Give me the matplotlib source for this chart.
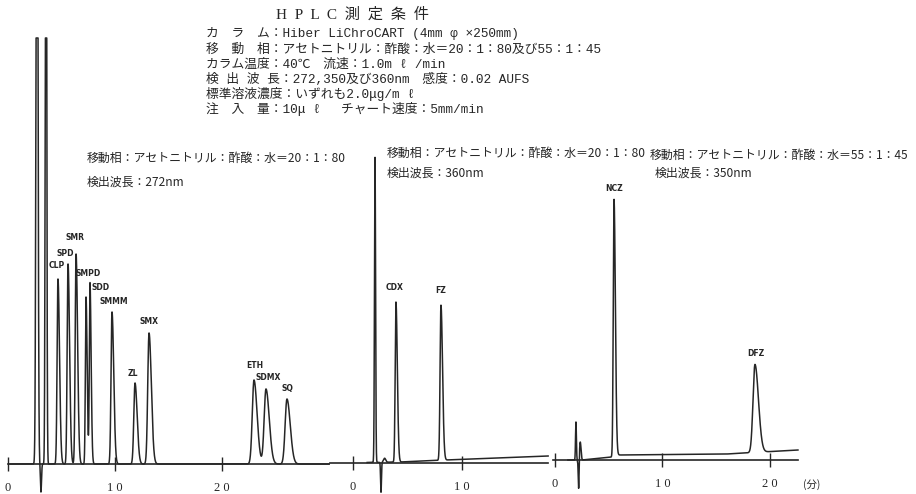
import numpy as np
import matplotlib
matplotlib.use('Agg')
import matplotlib.pyplot as plt

plt.rcParams['font.family'] = ['Noto Sans CJK JP', 'DejaVu Sans']

W, H = 916, 494

# Peak tables: retention time (min), height (chart units), width sigma (min)
p1_names = ['CLP', 'SPD', 'SMR', 'SMPD', 'SDD', 'SMMM', 'ZL', 'SMX', 'ETH', 'SDMX', 'SQ']
p1_rt = [4.67, 5.61, 6.36, 7.29, 7.66, 9.72, 11.87, 13.18, 22.99, 24.11, 26.07]
p1_height = [185, 200, 210, 167, 181, 152, 81, 131, 84, 75, 65]
p1_sigma = [0.08, 0.08, 0.08, 0.06, 0.06, 0.09, 0.11, 0.12, 0.16, 0.17, 0.17]
p1_inj_rt = [2.71, 3.08, 3.55]
p1_inj_height = [900, -28, 900]
p1_inj_sigma = [0.08, 0.05, 0.06]

p2_names = ['CDX', 'FZ']
p2_rt = [3.94, 8.07]
p2_height = [160, 155]
p2_sigma = [0.07, 0.08]
p2_inj_rt = [2.02, 2.57, 2.9]
p2_inj_height = [305, -30, 4]
p2_inj_sigma = [0.05, 0.04, 0.1]
p2_drift_t = [-2.0, 4.3, 8.5, 17.9]
p2_drift = [0, 1, 3, 7]

p3_names = ['NCZ', 'DFZ']
p3_rt = [5.49, 18.6]
p3_height = [257, 88]
p3_sigma = [0.07, 0.18]
p3_inj_rt = [1.95, 2.2, 2.35]
p3_inj_height = [38, -30, 18]
p3_inj_sigma = [0.04, 0.04, 0.07]
p3_drift_t = [-0.2, 2.5, 5.3, 5.9, 16.0, 22.6]
p3_drift = [0, 0, 3, 5, 6, 10]

FULL_SCALE = 426  # recorder pen limit

# label offsets (pixels) from each peak top
p1_lab_off = [(-1, 14), (-3, 11), (-1, 17), (2, 24), (11, -4), (2, 10), (-2, 10), (0, 12), (1, 14), (2, 12), (0, 11)]
p2_lab_off = [(-1, 15), (0, 15)]
p3_lab_off = [(0, 11), (1, 11)]


def trace(t, rt, height, sigma, tail=1.8):
    y = np.zeros_like(t)
    for r, h, s in zip(rt, height, sigma):
        sd = np.where(t < r, s, s * tail)
        y += h * np.exp(-0.5 * ((t - r) / sd) ** 2)
    return y


def panel(fig, x0, scale, ybase, t_lo, t_hi, ax_lo, ax_hi, ticks, ticklabels,
          names, rt, height, sigma, inj_rt, inj_height, inj_sigma, lab_off,
          drift_t=None, drift=None):
    ax = fig.add_axes([0, 0, 1, 1])
    ax.patch.set_alpha(0)
    ax.set_xlim(-x0 / scale, (W - x0) / scale)
    ax.set_ylim(-(H - ybase), ybase)
    t = np.linspace(t_lo, t_hi, 8000)
    y = trace(t, rt, height, sigma)
    y += trace(t, inj_rt, inj_height, inj_sigma, tail=1.0)
    if drift_t is not None:
        y += np.interp(t, drift_t, drift)
    y = np.minimum(y, FULL_SCALE)
    ax.plot(t, y, color='#262626', lw=1.1)
    for n, r, h, (dx, dy) in zip(names, rt, height, lab_off):
        base = np.interp(r, drift_t, drift) if drift_t is not None else 0
        ax.annotate(n, (r, h + base), xytext=(dx, dy), textcoords='offset pixels',
                    ha='center', va='center', fontsize=5.5, fontweight='bold',
                    family=['Liberation Sans Narrow', 'DejaVu Sans'], color='#262626')
    for s in ['top', 'left', 'right']:
        ax.spines[s].set_visible(False)
    ax.spines['bottom'].set_position(('data', 0))
    ax.spines['bottom'].set_bounds(ax_lo, ax_hi)
    ax.spines['bottom'].set_linewidth(1.2)
    ax.spines['bottom'].set_color('#262626')
    ax.set_yticks([])
    ax.set_xticks(ticks)
    ax.set_xticklabels(ticklabels, family=['Liberation Serif'], fontsize=9)
    ax.tick_params(axis='x', direction='inout', length=10, width=1.0, pad=8,
                   color='#262626', labelcolor='#262626')
    return ax


fig = plt.figure(figsize=(W / 100, H / 100), dpi=100)
fig.patch.set_facecolor('white')

panel(fig, 8, 10.7, 464, 0.2, 30.0, 0.0, 30.0, [0, 10, 20], ['0', '1 0', '2 0'],
      p1_names, p1_rt, p1_height, p1_sigma, p1_inj_rt, p1_inj_height, p1_inj_sigma,
      p1_lab_off)
panel(fig, 353, 10.9, 463, 1.3, 17.9, -2.1, 17.9, [0, 10], ['0', '1 0'],
      p2_names, p2_rt, p2_height, p2_sigma, p2_inj_rt, p2_inj_height, p2_inj_sigma,
      p2_lab_off, p2_drift_t, p2_drift)
panel(fig, 555, 10.75, 460, 1.2, 22.6, -0.2, 22.6, [0, 10, 20], ['0', '1 0', '2 0'],
      p3_names, p3_rt, p3_height, p3_sigma, p3_inj_rt, p3_inj_height, p3_inj_sigma,
      p3_lab_off, p3_drift_t, p3_drift)


def px(x, y):
    return x / W, 1 - y / H


head_font = ['Liberation Mono', 'Noto Sans CJK JP']
fig.text(*px(352, 15), 'H  P  L  C  測  定  条  件', ha='center', va='center',
         fontsize=11, family=['Liberation Serif', 'Noto Sans CJK JP'], color='#262626')
header = [
    'カ　ラ　ム：Hiber LiChroCART (4mm φ ×250mm)',
    '移　動　相：アセトニトリル：酢酸：水＝20：1：80及び55：1：45',
    'カラム温度：40℃　流速：1.0m ℓ /min',
    '検 出 波 長：272,350及び360nm　感度：0.02 AUFS',
    '標準溶液濃度：いずれも2.0μg/m ℓ',
    '注　入　量：10μ ℓ 　チャート速度：5mm/min',
]
for i, line in enumerate(header):
    fig.text(*px(206, 37.5 + 15.2 * i), line, ha='left', va='baseline',
             fontsize=9.2, family=head_font, color='#262626')

cond_kw = dict(ha='left', va='center', fontsize=8.6, color='#262626')
fig.text(*px(87, 158), '移動相：アセトニトリル：酢酸：水＝20：1：80', **cond_kw)
fig.text(*px(87, 182), '検出波長：272nm', **cond_kw)
fig.text(*px(387, 153), '移動相：アセトニトリル：酢酸：水＝20：1：80', **cond_kw)
fig.text(*px(387, 173), '検出波長：360nm', **cond_kw)
fig.text(*px(650, 155), '移動相：アセトニトリル：酢酸：水＝55：1：45', **cond_kw)
fig.text(*px(655, 173), '検出波長：350nm', **cond_kw)
fig.text(*px(812, 485), '(分)', ha='center', va='center', fontsize=7.5, color='#262626')

fig.savefig('out.png', dpi=100)
